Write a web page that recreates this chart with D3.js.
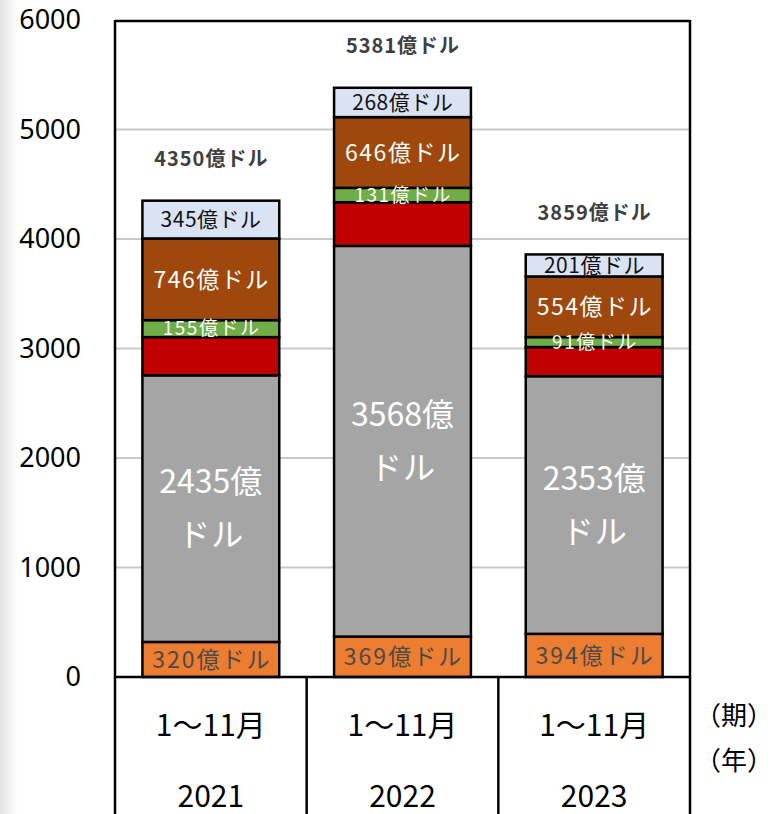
<!DOCTYPE html>
<html>
<head>
<meta charset="utf-8">
<script src="https://cdn.jsdelivr.net/npm/d3@7"></script>
<style>
  body { margin: 0; background: #fff; }
  text { font-family: "Noto Sans CJK JP", "Noto Sans", sans-serif; }
</style>
</head>
<body>
<svg id="chart" width="775" height="814"></svg>
<script>
const years = ["2021", "2022", "2023"];
const periods = ["1～11月", "1～11月", "1～11月"];
const orangeVals = [320, 369, 394];
const grayVals = [2435, 3568, 2353];
const redVals = [349, 399, 266];
const greenVals = [155, 131, 91];
const brownVals = [746, 646, 554];
const blueVals = [345, 268, 201];
const totals = [4350, 5381, 3859];
const yTicks = [0, 1000, 2000, 3000, 4000, 5000, 6000];

const svg = d3.select("#chart");

// faint grey strip on the far left
const grad = svg.append("defs").append("linearGradient").attr("id", "edge");
grad.append("stop").attr("offset", "0%").attr("stop-color", "#e2e2e2");
grad.append("stop").attr("offset", "100%").attr("stop-color", "#ffffff");
svg.append("rect").attr("x", 0).attr("y", 0).attr("width", 18).attr("height", 814).attr("fill", "url(#edge)");

const plotL = 115, plotR = 690, plotT = 20, plotB = 677;

const x = d3.scaleBand()
  .domain(years)
  .range([plotL, plotR])
  .paddingInner(0.286)
  .paddingOuter(0.143);

const xCell = d3.scaleBand().domain(years).range([plotL, plotR]);

const y = d3.scaleLinear().domain([0, 6000]).range([plotB, plotT]);

// grid lines
svg.append("g").selectAll("line")
  .data(yTicks.filter(d => d > 0 && d < 6000))
  .enter().append("line")
  .attr("x1", plotL).attr("x2", plotR)
  .attr("y1", d => y(d)).attr("y2", d => y(d))
  .attr("stroke", "#c9c9c9").attr("stroke-width", 2);

// y axis labels
const yAxis = svg.append("g")
  .attr("transform", "translate(81,0)")
  .call(d3.axisLeft(y).tickValues(yTicks).tickFormat(d3.format("d")).tickSize(0).tickPadding(0));
yAxis.select(".domain").remove();
yAxis.selectAll("text")
  .style("font-size", "27px")
  .style("font-family", "'Noto Sans', sans-serif")
  .attr("fill", "#000");

// stacked bars
const series = [
  { vals: orangeVals, fill: "#ED7D31" },
  { vals: grayVals, fill: "#A5A5A5" },
  { vals: redVals, fill: "#C00000" },
  { vals: greenVals, fill: "#70AD47" },
  { vals: brownVals, fill: "#9E480E" },
  { vals: blueVals, fill: "#DAE3F3" }
];

const rows = years.map((yr, i) => {
  let acc = 0;
  return series.map((s, k) => {
    const seg = { year: yr, idx: i, k: k, v0: acc, v1: acc + s.vals[i], fill: s.fill };
    acc += s.vals[i];
    return seg;
  });
}).flat();

svg.append("g").selectAll("rect")
  .data(rows)
  .enter().append("rect")
  .attr("x", d => x(d.year))
  .attr("width", x.bandwidth())
  .attr("y", d => y(d.v1))
  .attr("height", d => y(d.v0) - y(d.v1))
  .attr("fill", d => d.fill)
  .attr("stroke", "#000")
  .attr("stroke-width", 2.5);

// segment labels
const lbl = svg.append("g").attr("text-anchor", "middle");
function addLabel(cx, cy, txt, size, color, ls) {
  lbl.append("text").attr("x", cx + ls / 2).attr("y", cy).attr("dy", "0.36em")
    .style("font-size", size + "px").style("letter-spacing", ls + "px")
    .attr("fill", color).text(txt);
}
rows.forEach(d => {
  const cx = x(d.year) + x.bandwidth() / 2;
  const cy = (y(d.v0) + y(d.v1)) / 2;
  const v = d.v1 - d.v0;
  if (d.k === 0) addLabel(cx, cy, v + "億ドル", 23, "#4a4a4a", 2);
  else if (d.k === 1) {
    addLabel(cx, cy - 27, v + "億", 32, "#fff", 0);
    addLabel(cx, cy + 26, "ドル", 32, "#fff", 1);
  }
  else if (d.k === 3) addLabel(cx, cy, v + "億ドル", 19, "#fff", 1.5);
  else if (d.k === 4) addLabel(cx, cy, v + "億ドル", 23, "#fff", 1.5);
  else if (d.k === 5) addLabel(cx, cy, v + "億ドル", 21, "#111", 0.5);
});

// totals
svg.append("g").selectAll("text")
  .data(totals)
  .enter().append("text")
  .attr("x", (d, i) => x(years[i]) + x.bandwidth() / 2 + 0.5)
  .attr("y", d => y(d) - 42)
  .attr("dy", "0.36em")
  .attr("text-anchor", "middle")
  .style("font-size", "20px")
  .style("font-weight", "bold")
  .style("letter-spacing", "1px")
  .attr("fill", "#404040")
  .text(d => d + "億ドル");

// frame
const frame = svg.append("g").attr("stroke", "#000").attr("stroke-width", 2.5);
frame.append("line").attr("x1", plotL).attr("x2", plotR).attr("y1", plotT + 1).attr("y2", plotT + 1);
frame.append("line").attr("x1", plotL).attr("x2", plotR).attr("y1", plotB).attr("y2", plotB);
[plotL, ...years.slice(1).map(d => xCell(d)), plotR].forEach((xx, i) => {
  frame.append("line")
    .attr("x1", xx).attr("x2", xx)
    .attr("y1", (i === 0 || i === 3) ? plotT : plotB)
    .attr("y2", 814);
});

// category table
const cat = svg.append("g").attr("text-anchor", "middle").style("font-size", "30px").attr("fill", "#000");
years.forEach((yr, i) => {
  const cx = xCell(yr) + xCell.bandwidth() / 2;
  cat.append("text").attr("x", cx).attr("y", 725).attr("dy", "0.36em").text(periods[i]);
  cat.append("text").attr("x", cx).attr("y", 796).attr("dy", "0.36em").text(yr);
});
svg.append("text").attr("x", 734).attr("y", 716).attr("dy", "0.36em").attr("text-anchor", "middle")
  .style("font-size", "26px").text("（期）");
svg.append("text").attr("x", 734).attr("y", 761).attr("dy", "0.36em").attr("text-anchor", "middle")
  .style("font-size", "26px").text("（年）");
</script>
</body>
</html>
